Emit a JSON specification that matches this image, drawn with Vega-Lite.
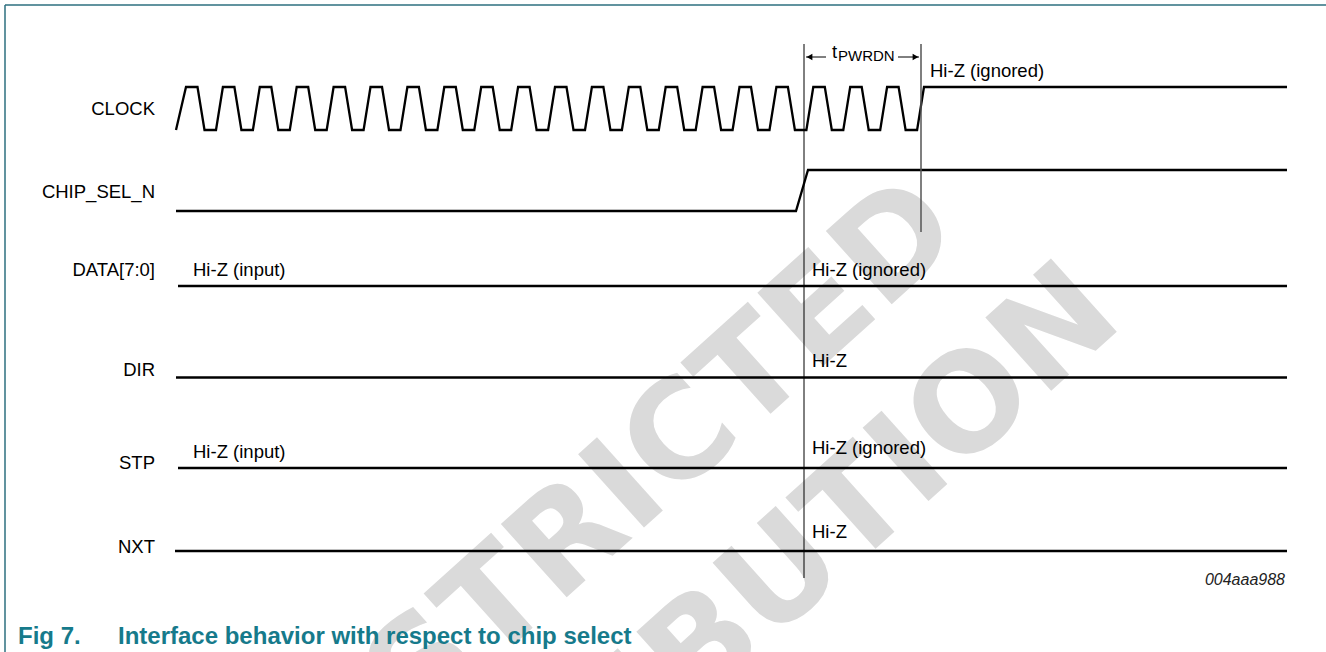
{
  "$schema": "https://vega.github.io/schema/vega-lite/v6.json",
  "width": 1326,
  "height": 652,
  "padding": 0,
  "autosize": {"type": "none"},
  "background": "white",
  "config": {"view": {"stroke": null}, "font": "Liberation Sans"},
  "datasets": {
    "watermark": [
      {"word": "RESTRICTED", "x": 591, "y": 520},
      {"word": "DISTRIBUTION", "x": 694, "y": 657}
    ],
    "border": [
      {"x": 5, "x2": 5, "y": 5, "y2": 652},
      {"x": 5, "x2": 1326, "y": 5, "y2": 5}
    ],
    "signals": [
      {"signal": "CLOCK", "x": 176, "y": 130},
      {"signal": "CLOCK", "x": 186, "y": 87}, {"signal": "CLOCK", "x": 197.5, "y": 87}, {"signal": "CLOCK", "x": 204.5, "y": 130}, {"signal": "CLOCK", "x": 216, "y": 130},
      {"signal": "CLOCK", "x": 222.9, "y": 87}, {"signal": "CLOCK", "x": 234.4, "y": 87}, {"signal": "CLOCK", "x": 241.4, "y": 130}, {"signal": "CLOCK", "x": 252.9, "y": 130},
      {"signal": "CLOCK", "x": 259.8, "y": 87}, {"signal": "CLOCK", "x": 271.3, "y": 87}, {"signal": "CLOCK", "x": 278.3, "y": 130}, {"signal": "CLOCK", "x": 289.8, "y": 130},
      {"signal": "CLOCK", "x": 296.7, "y": 87}, {"signal": "CLOCK", "x": 308.2, "y": 87}, {"signal": "CLOCK", "x": 315.2, "y": 130}, {"signal": "CLOCK", "x": 326.7, "y": 130},
      {"signal": "CLOCK", "x": 333.6, "y": 87}, {"signal": "CLOCK", "x": 345.1, "y": 87}, {"signal": "CLOCK", "x": 352.1, "y": 130}, {"signal": "CLOCK", "x": 363.6, "y": 130},
      {"signal": "CLOCK", "x": 370.5, "y": 87}, {"signal": "CLOCK", "x": 382, "y": 87}, {"signal": "CLOCK", "x": 389, "y": 130}, {"signal": "CLOCK", "x": 400.5, "y": 130},
      {"signal": "CLOCK", "x": 407.4, "y": 87}, {"signal": "CLOCK", "x": 418.9, "y": 87}, {"signal": "CLOCK", "x": 425.9, "y": 130}, {"signal": "CLOCK", "x": 437.4, "y": 130},
      {"signal": "CLOCK", "x": 444.3, "y": 87}, {"signal": "CLOCK", "x": 455.8, "y": 87}, {"signal": "CLOCK", "x": 462.8, "y": 130}, {"signal": "CLOCK", "x": 474.3, "y": 130},
      {"signal": "CLOCK", "x": 481.2, "y": 87}, {"signal": "CLOCK", "x": 492.7, "y": 87}, {"signal": "CLOCK", "x": 499.7, "y": 130}, {"signal": "CLOCK", "x": 511.2, "y": 130},
      {"signal": "CLOCK", "x": 518.1, "y": 87}, {"signal": "CLOCK", "x": 529.6, "y": 87}, {"signal": "CLOCK", "x": 536.6, "y": 130}, {"signal": "CLOCK", "x": 548.1, "y": 130},
      {"signal": "CLOCK", "x": 555, "y": 87}, {"signal": "CLOCK", "x": 566.5, "y": 87}, {"signal": "CLOCK", "x": 573.5, "y": 130}, {"signal": "CLOCK", "x": 585, "y": 130},
      {"signal": "CLOCK", "x": 591.9, "y": 87}, {"signal": "CLOCK", "x": 603.4, "y": 87}, {"signal": "CLOCK", "x": 610.4, "y": 130}, {"signal": "CLOCK", "x": 621.9, "y": 130},
      {"signal": "CLOCK", "x": 628.8, "y": 87}, {"signal": "CLOCK", "x": 640.3, "y": 87}, {"signal": "CLOCK", "x": 647.3, "y": 130}, {"signal": "CLOCK", "x": 658.8, "y": 130},
      {"signal": "CLOCK", "x": 665.7, "y": 87}, {"signal": "CLOCK", "x": 677.2, "y": 87}, {"signal": "CLOCK", "x": 684.2, "y": 130}, {"signal": "CLOCK", "x": 695.7, "y": 130},
      {"signal": "CLOCK", "x": 702.6, "y": 87}, {"signal": "CLOCK", "x": 714.1, "y": 87}, {"signal": "CLOCK", "x": 721.1, "y": 130}, {"signal": "CLOCK", "x": 732.6, "y": 130},
      {"signal": "CLOCK", "x": 739.5, "y": 87}, {"signal": "CLOCK", "x": 751, "y": 87}, {"signal": "CLOCK", "x": 758, "y": 130}, {"signal": "CLOCK", "x": 769.5, "y": 130},
      {"signal": "CLOCK", "x": 776.4, "y": 87}, {"signal": "CLOCK", "x": 787.9, "y": 87}, {"signal": "CLOCK", "x": 794.9, "y": 130}, {"signal": "CLOCK", "x": 806.4, "y": 130},
      {"signal": "CLOCK", "x": 813.3, "y": 87}, {"signal": "CLOCK", "x": 824.8, "y": 87}, {"signal": "CLOCK", "x": 831.8, "y": 130}, {"signal": "CLOCK", "x": 843.3, "y": 130},
      {"signal": "CLOCK", "x": 850.2, "y": 87}, {"signal": "CLOCK", "x": 861.7, "y": 87}, {"signal": "CLOCK", "x": 868.7, "y": 130}, {"signal": "CLOCK", "x": 880.2, "y": 130},
      {"signal": "CLOCK", "x": 887.1, "y": 87}, {"signal": "CLOCK", "x": 898.6, "y": 87}, {"signal": "CLOCK", "x": 905.6, "y": 130}, {"signal": "CLOCK", "x": 917.1, "y": 130},
      {"signal": "CLOCK", "x": 924, "y": 87}, {"signal": "CLOCK", "x": 1287, "y": 87},
      {"signal": "CHIP_SEL_N", "x": 176, "y": 211}, {"signal": "CHIP_SEL_N", "x": 796, "y": 211},
      {"signal": "CHIP_SEL_N", "x": 808, "y": 170}, {"signal": "CHIP_SEL_N", "x": 1287, "y": 170},
      {"signal": "DATA", "x": 178, "y": 286}, {"signal": "DATA", "x": 1287, "y": 286},
      {"signal": "DIR", "x": 176, "y": 377.5}, {"signal": "DIR", "x": 1287, "y": 377.5},
      {"signal": "STP", "x": 178, "y": 468}, {"signal": "STP", "x": 1287, "y": 468},
      {"signal": "NXT", "x": 175, "y": 551}, {"signal": "NXT", "x": 1287, "y": 551}
    ],
    "markers": [
      {"name": "cs", "x": 804, "y": 44, "y2": 578}
    ],
    "markers2": [
      {"name": "pwrdn_end", "x": 921, "y": 44, "y2": 232}
    ],
    "dims": [
      {"side": "left", "x": 806, "x2": 826, "y": 57},
      {"side": "right", "x": 898, "x2": 919, "y": 57}
    ],
    "heads": [
      {"side": "left", "x": 809.5, "y": 57},
      {"side": "right", "x": 915.5, "y": 57}
    ],
    "labels": [
      {"label": "CLOCK", "x": 155, "y": 108.5},
      {"label": "CHIP_SEL_N", "x": 155, "y": 192},
      {"label": "DATA[7:0]", "x": 155, "y": 270},
      {"label": "DIR", "x": 155, "y": 370},
      {"label": "STP", "x": 155, "y": 463},
      {"label": "NXT", "x": 155, "y": 547}
    ],
    "states": [
      {"label": "Hi-Z (input)", "x": 193, "y": 270},
      {"label": "Hi-Z (input)", "x": 193, "y": 452},
      {"label": "Hi-Z (ignored)", "x": 930, "y": 71},
      {"label": "Hi-Z (ignored)", "x": 812, "y": 270},
      {"label": "Hi-Z", "x": 812, "y": 360.5},
      {"label": "Hi-Z (ignored)", "x": 812, "y": 448},
      {"label": "Hi-Z", "x": 812, "y": 531.5}
    ],
    "tsym": [{"label": "t", "x": 832, "y": 58}],
    "tsub": [{"label": "PWRDN", "x": 838, "y": 60.5}],
    "code": [{"label": "004aaa988", "x": 1285, "y": 585}],
    "figno": [{"label": "Fig 7.", "x": 18, "y": 644}],
    "caption": [{"label": "Interface behavior with respect to chip select", "x": 118, "y": 644}]
  },
  "layer": [
    {
      "data": {"name": "watermark"},
      "mark": {"type": "text", "font": "DejaVu Sans", "fontWeight": "bold", "fontSize": 135, "angle": 318, "align": "center", "baseline": "middle", "color": "#dadada"},
      "encoding": {
        "x": {"field": "x", "type": "quantitative", "scale": {"domain": [0, 1326], "nice": false, "zero": false}, "axis": null},
        "y": {"field": "y", "type": "quantitative", "scale": {"domain": [0, 652], "nice": false, "zero": false, "reverse": true}, "axis": null},
        "text": {"field": "word"}
      }
    },
    {
      "data": {"name": "border"},
      "mark": {"type": "rule", "color": "#2c6f7f", "strokeWidth": 1.5},
      "encoding": {
        "x": {"field": "x", "type": "quantitative", "axis": null},
        "x2": {"field": "x2"},
        "y": {"field": "y", "type": "quantitative", "axis": null},
        "y2": {"field": "y2"}
      }
    },
    {
      "data": {"name": "signals"},
      "mark": {"type": "line", "color": "black", "strokeWidth": 2.3, "strokeJoin": "miter"},
      "encoding": {
        "x": {"field": "x", "type": "quantitative", "axis": null},
        "y": {"field": "y", "type": "quantitative", "axis": null},
        "detail": {"field": "signal"}
      }
    },
    {
      "data": {"name": "markers"},
      "mark": {"type": "rule", "color": "black", "strokeWidth": 1},
      "encoding": {
        "x": {"field": "x", "type": "quantitative", "axis": null},
        "y": {"field": "y", "type": "quantitative", "axis": null},
        "y2": {"field": "y2"}
      }
    },
    {
      "data": {"name": "markers2"},
      "mark": {"type": "rule", "color": "#555555", "strokeWidth": 1.5},
      "encoding": {
        "x": {"field": "x", "type": "quantitative", "axis": null},
        "y": {"field": "y", "type": "quantitative", "axis": null},
        "y2": {"field": "y2"}
      }
    },
    {
      "data": {"name": "dims"},
      "mark": {"type": "rule", "color": "black", "strokeWidth": 1},
      "encoding": {
        "x": {"field": "x", "type": "quantitative", "axis": null},
        "x2": {"field": "x2"},
        "y": {"field": "y", "type": "quantitative", "axis": null}
      }
    },
    {
      "data": {"name": "heads"},
      "mark": {"type": "point", "filled": true, "color": "black", "size": 45, "opacity": 1},
      "encoding": {
        "x": {"field": "x", "type": "quantitative", "axis": null},
        "y": {"field": "y", "type": "quantitative", "axis": null},
        "shape": {"field": "side", "type": "nominal", "scale": {"domain": ["left", "right"], "range": ["triangle-left", "triangle-right"]}, "legend": null}
      }
    },
    {
      "data": {"name": "labels"},
      "mark": {"type": "text", "align": "right", "baseline": "middle", "fontSize": 18.5, "color": "black"},
      "encoding": {
        "x": {"field": "x", "type": "quantitative", "axis": null},
        "y": {"field": "y", "type": "quantitative", "axis": null},
        "text": {"field": "label"}
      }
    },
    {
      "data": {"name": "states"},
      "mark": {"type": "text", "align": "left", "baseline": "middle", "fontSize": 18.5, "color": "black"},
      "encoding": {
        "x": {"field": "x", "type": "quantitative", "axis": null},
        "y": {"field": "y", "type": "quantitative", "axis": null},
        "text": {"field": "label"}
      }
    },
    {
      "data": {"name": "tsym"},
      "mark": {"type": "text", "align": "left", "baseline": "alphabetic", "fontSize": 18.5, "color": "black"},
      "encoding": {
        "x": {"field": "x", "type": "quantitative", "axis": null},
        "y": {"field": "y", "type": "quantitative", "axis": null},
        "text": {"field": "label"}
      }
    },
    {
      "data": {"name": "tsub"},
      "mark": {"type": "text", "align": "left", "baseline": "alphabetic", "fontSize": 15, "color": "black"},
      "encoding": {
        "x": {"field": "x", "type": "quantitative", "axis": null},
        "y": {"field": "y", "type": "quantitative", "axis": null},
        "text": {"field": "label"}
      }
    },
    {
      "data": {"name": "code"},
      "mark": {"type": "text", "align": "right", "baseline": "alphabetic", "fontSize": 16, "fontStyle": "italic", "color": "#222222"},
      "encoding": {
        "x": {"field": "x", "type": "quantitative", "axis": null},
        "y": {"field": "y", "type": "quantitative", "axis": null},
        "text": {"field": "label"}
      }
    },
    {
      "data": {"name": "figno"},
      "mark": {"type": "text", "align": "left", "baseline": "alphabetic", "fontSize": 24, "fontWeight": "bold", "color": "#167a8b"},
      "encoding": {
        "x": {"field": "x", "type": "quantitative", "axis": null},
        "y": {"field": "y", "type": "quantitative", "axis": null},
        "text": {"field": "label"}
      }
    },
    {
      "data": {"name": "caption"},
      "mark": {"type": "text", "align": "left", "baseline": "alphabetic", "fontSize": 24, "fontWeight": "bold", "color": "#167a8b"},
      "encoding": {
        "x": {"field": "x", "type": "quantitative", "axis": null},
        "y": {"field": "y", "type": "quantitative", "axis": null},
        "text": {"field": "label"}
      }
    }
  ]
}
